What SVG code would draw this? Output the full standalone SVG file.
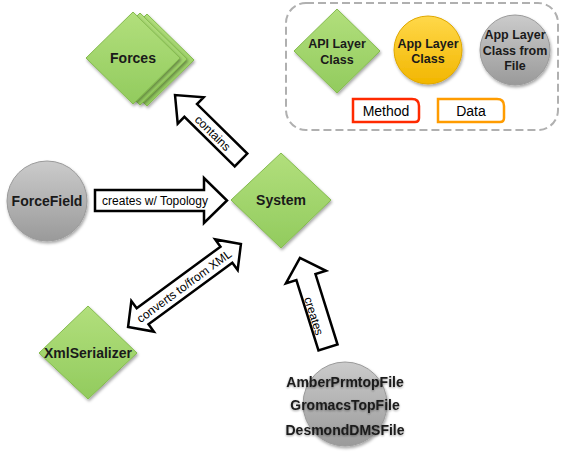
<svg xmlns="http://www.w3.org/2000/svg" width="563" height="454" viewBox="0 0 563 454">
<defs>
  <linearGradient id="gGreen" x1="0" y1="0" x2="0" y2="1">
    <stop offset="0" stop-color="#b2df7c"/>
    <stop offset="1" stop-color="#92cb5e"/>
  </linearGradient>
  <linearGradient id="gGray" x1="0" y1="0" x2="0" y2="1">
    <stop offset="0" stop-color="#cbcbcb"/>
    <stop offset="1" stop-color="#9a9a9a"/>
  </linearGradient>
  <linearGradient id="gYellow" x1="0" y1="0" x2="0" y2="1">
    <stop offset="0" stop-color="#ffd84a"/>
    <stop offset="1" stop-color="#f2b600"/>
  </linearGradient>
  <filter id="shadow" x="-20%" y="-20%" width="140%" height="140%">
    <feDropShadow dx="1" dy="2" stdDeviation="1.6" flood-color="#000" flood-opacity="0.35"/>
  </filter>
  <filter id="glow" x="-10%" y="-30%" width="120%" height="160%">
    <feDropShadow dx="0" dy="1" stdDeviation="1.2" flood-color="#000" flood-opacity="0.4"/>
  </filter>
  <style>
    .dia { fill: url(#gGreen); stroke: #84bb4e; stroke-width: 1; filter: url(#shadow); }
    .gray { fill: url(#gGray); stroke: #9a9a9a; stroke-width: 1; filter: url(#shadow); }
    .yellow { fill: url(#gYellow); stroke: #e0a800; stroke-width: 1; filter: url(#shadow); }
    .lbl { font-family: "Liberation Sans", Arial, sans-serif; font-weight: bold; fill: #1a1a1a; text-anchor: middle; }
    .arrow { fill: #fff; stroke: #000; stroke-width: 2.5; stroke-linejoin: miter; }
    .alab { font-family: "Liberation Sans", Arial, sans-serif; font-size: 12px; fill: #000; text-anchor: middle; }
    .leg { font-family: "Liberation Sans", Arial, sans-serif; font-size: 14px; fill: #000; text-anchor: middle; }
  </style>
</defs>
<rect width="563" height="454" fill="#fff"/>

<g id="legend">
  <rect x="286" y="3" width="272" height="127" rx="20" fill="none" stroke="#b0b0b0" stroke-width="2" stroke-dasharray="8 4"/>
  <g id="legend-api">
    <polygon class="dia" points="337,9 380,51 337,93 294,51"/>
    <text class="lbl" font-size="12.5" x="337" y="48">API Layer</text>
    <text class="lbl" font-size="12.5" x="337" y="64">Class</text>
  </g>
  <g id="legend-app">
    <circle class="yellow" cx="428" cy="50" r="34"/>
    <text class="lbl" font-size="12.5" x="428" y="48">App Layer</text>
    <text class="lbl" font-size="12.5" x="428" y="63">Class</text>
  </g>
  <g id="legend-file">
    <circle class="gray" cx="515" cy="50" r="35"/>
    <text class="lbl" font-size="12.5" x="515" y="39">App Layer</text>
    <text class="lbl" font-size="12.5" x="515" y="55">Class from</text>
    <text class="lbl" font-size="12.5" x="515" y="70">File</text>
  </g>
  <g id="legend-method">
    <path d="M353,99 H412 Q419,99 419,106 V118 Q419,122 415,122 H353 Z" fill="#fff" stroke="#ff2a00" stroke-width="2.5"/>
    <text class="leg" x="386" y="116">Method</text>
  </g>
  <g id="legend-data">
    <path d="M438,99 H497 Q504,99 504,106 V118 Q504,122 500,122 H438 Z" fill="#fff" stroke="#ff9c00" stroke-width="2.5"/>
    <text class="leg" x="471" y="116">Data</text>
  </g>
</g>

<g id="connectors">
  <g id="arrow-contains">
    <path class="arrow" transform="translate(241,160) rotate(-135.44)" d="M0,-9 L70.6,-9 L70.6,-18.5 L92.6,0 L70.6,18.5 L70.6,9 L0,9 Z"/>
    <text class="alab" transform="translate(213,133) rotate(44.56)" y="4.3">contains</text>
  </g>
  <g id="arrow-topology">
    <path class="arrow" d="M95,190 L204,190 L204,178 L227,200.5 L204,223 L204,211 L95,211 Z"/>
    <text class="alab" x="155" y="205">creates w/ Topology</text>
  </g>
  <g id="arrow-xml">
    <path class="arrow" transform="translate(184.5,285.5) rotate(-36.3)" d="M-70,0 L-52,-19 L-52,-10 L52,-10 L52,-19 L70,0 L52,19 L52,10 L-52,10 L-52,19 Z"/>
    <text class="alab" transform="translate(184,286) rotate(-36.3)" y="4.3">converts to/from XML</text>
  </g>
  <g id="arrow-creates">
    <path class="arrow" transform="translate(328,347.5) rotate(-107.4)" d="M0,-10 L73.8,-10 L73.8,-21 L93.8,0 L73.8,21 L73.8,10 L0,10 Z"/>
    <text class="alab" transform="translate(314,316) rotate(72.6)" y="4.3">creates</text>
  </g>
</g>

<g id="forces">
  <polygon class="dia" points="147,14 194,60 147,106 100,60"/>
  <polygon class="dia" points="140,13 187,59 140,105 93,59"/>
  <polygon class="dia" points="133,12 180,58 133,104 86,58"/>
  <text class="lbl" font-size="14" x="133" y="63">Forces</text>
</g>

<g id="system">
  <polygon class="dia" points="281,153 331,200 281,248 231,200"/>
  <text class="lbl" font-size="14" x="281" y="205">System</text>
</g>

<g id="forcefield">
  <circle class="gray" cx="47" cy="201" r="40"/>
  <text class="lbl" font-size="14" x="47" y="206">ForceField</text>
</g>

<g id="xmlserializer">
  <polygon class="dia" points="88,306 137,353 88,399 39,353"/>
  <text class="lbl" font-size="14" x="88" y="358">XmlSerializer</text>
</g>

<g id="files">
  <circle class="gray" cx="345" cy="404" r="42"/>
  <g filter="url(#glow)">
    <text class="lbl" font-size="14" x="345" y="387">AmberPrmtopFile</text>
    <text class="lbl" font-size="14" x="345" y="410">GromacsTopFile</text>
    <text class="lbl" font-size="14" x="345" y="435">DesmondDMSFile</text>
  </g>
</g>
</svg>
